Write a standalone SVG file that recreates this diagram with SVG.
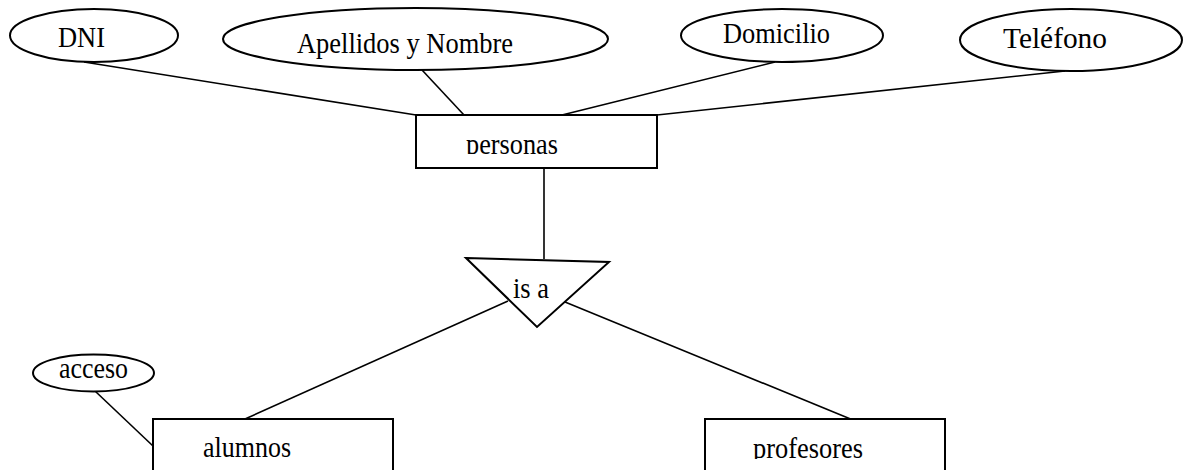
<svg xmlns="http://www.w3.org/2000/svg" width="1184" height="470" viewBox="0 0 1184 470">
<style>
.sh{fill:#fff;stroke:#000;stroke-width:2}
.ln{stroke:#000;stroke-width:1.6;fill:none}
text{font-family:"Liberation Serif","Times New Roman",serif;font-size:29px;fill:#000}
</style>
<defs>
<clipPath id="cpPer"><rect x="416" y="115" width="241" height="39"/></clipPath>
<clipPath id="cpAlu"><rect x="153" y="419" width="240" height="39"/></clipPath>
<clipPath id="cpPro"><rect x="705" y="419" width="240" height="40"/></clipPath>
</defs>
<rect width="1184" height="470" fill="#fff"/>
<g id="connectors">
<line class="ln" x1="84" y1="62" x2="416" y2="115"/>
<line class="ln" x1="422" y1="70" x2="464" y2="115"/>
<line class="ln" x1="775" y1="62" x2="562" y2="115"/>
<line class="ln" x1="1065" y1="71" x2="657" y2="115"/>
<line class="ln" x1="544" y1="168" x2="544" y2="259"/>
<line class="ln" x1="508" y1="301" x2="245" y2="419"/>
<line class="ln" x1="565" y1="302" x2="853" y2="420"/>
<line class="ln" x1="95" y1="391" x2="153" y2="446"/>
</g>
<g id="dni">
<ellipse class="sh" cx="94" cy="35.5" rx="84" ry="26.5"/>
<text x="58" y="47" textLength="47" lengthAdjust="spacingAndGlyphs">DNI</text>
</g>
<g id="apellidos">
<ellipse class="sh" cx="415.5" cy="39" rx="192.5" ry="31"/>
<text x="297" y="53" textLength="216" lengthAdjust="spacingAndGlyphs">Apellidos y Nombre</text>
</g>
<g id="domicilio">
<ellipse class="sh" cx="782" cy="35.5" rx="101" ry="26.5"/>
<text x="723" y="43" textLength="107" lengthAdjust="spacingAndGlyphs">Domicilio</text>
</g>
<g id="telefono">
<ellipse class="sh" cx="1071" cy="40" rx="111" ry="31"/>
<text x="1003" y="48" textLength="104" lengthAdjust="spacingAndGlyphs">Teléfono</text>
</g>
<g id="personas">
<rect class="sh" x="416" y="115" width="241" height="53"/>
<text x="466" y="154" textLength="92" lengthAdjust="spacingAndGlyphs" clip-path="url(#cpPer)">personas</text>
</g>
<g id="isa">
<polygon class="sh" points="466,258 609,262 537,327"/>
<text x="513" y="298" textLength="36" lengthAdjust="spacingAndGlyphs">is a</text>
</g>
<g id="acceso">
<ellipse class="sh" cx="93.5" cy="373" rx="60.5" ry="18.5"/>
<text x="59" y="378" textLength="69" lengthAdjust="spacingAndGlyphs">acceso</text>
</g>
<g id="alumnos">
<rect class="sh" x="153" y="419" width="240" height="60"/>
<text x="203" y="457" textLength="88" lengthAdjust="spacingAndGlyphs" clip-path="url(#cpAlu)">alumnos</text>
</g>
<g id="profesores">
<rect class="sh" x="705" y="419" width="240" height="60"/>
<text x="753" y="458" textLength="110" lengthAdjust="spacingAndGlyphs" clip-path="url(#cpPro)">profesores</text>
</g>
</svg>
